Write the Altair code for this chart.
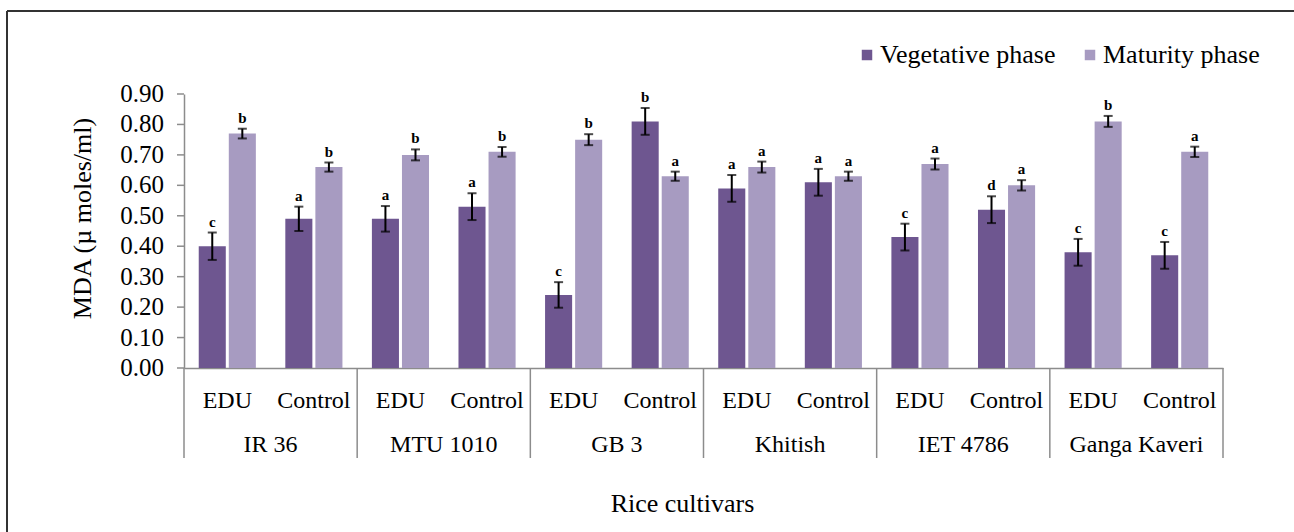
import altair as alt
import pandas as pd

# Rice cultivars and treatments
cultivars = ["IR 36", "MTU 1010", "GB 3", "Khitish", "IET 4786", "Ganga Kaveri"]
treatments = ["EDU", "Control"]
phases = ["Vegetative phase", "Maturity phase"]

# MDA (µ moles/ml), order: cultivar x (EDU, Control)
veg_mean = [0.40, 0.49, 0.49, 0.53, 0.24, 0.81, 0.59, 0.61, 0.43, 0.52, 0.38, 0.37]
veg_err = [0.045, 0.040, 0.042, 0.044, 0.042, 0.044, 0.044, 0.044, 0.044, 0.044, 0.044, 0.044]
veg_letters = ["c", "a", "a", "a", "c", "b", "a", "a", "c", "d", "c", "c"]

mat_mean = [0.77, 0.66, 0.70, 0.71, 0.75, 0.63, 0.66, 0.63, 0.67, 0.60, 0.81, 0.71]
mat_err = [0.016, 0.015, 0.018, 0.016, 0.018, 0.015, 0.018, 0.015, 0.018, 0.017, 0.018, 0.017]
mat_letters = ["b", "b", "b", "b", "b", "a", "a", "a", "a", "a", "b", "a"]

y_ticks = [0.0, 0.1, 0.2, 0.3, 0.4, 0.5, 0.6, 0.7, 0.8, 0.9]

colors = ["#6E5690", "#A79BC1"]
FONT = "Liberation Serif"
AXIS_GREY = "#8c8c8c"

slots = [f"{c}|{t}" for c in cultivars for t in treatments]

rows = []
for i, slot in enumerate(slots):
    rows.append(dict(slot=slot, phase=phases[0], mean=veg_mean[i],
                     err=veg_err[i], letter=veg_letters[i]))
    rows.append(dict(slot=slot, phase=phases[1], mean=mat_mean[i],
                     err=mat_err[i], letter=mat_letters[i]))
df = pd.DataFrame(rows)
df["lo"] = df["mean"] - df["err"]
df["hi"] = df["mean"] + df["err"]

tick_df = pd.DataFrame({"v": y_ticks, "lab": [f"{v:.2f}" for v in y_ticks]})

W, H = 1039, 274

x_scale = alt.Scale(domain=slots, paddingInner=0, paddingOuter=0)
x_axis = alt.Axis(
    labelExpr="split(datum.label, '|')[1]",
    labelAngle=0,
    labelFont=FONT,
    labelFontSize=24,
    labelColor="black",
    labelBaseline="middle",
    labelPadding=32,
    labelOverlap=False,
    ticks=False,
    domainColor=AXIS_GREY,
    domainWidth=1.5,
    title="Rice cultivars",
    titleFont=FONT,
    titleFontSize=26,
    titleFontWeight="normal",
    titleColor="black",
    titleX=498,
    titleY=135,
    titleAlign="center",
    titleBaseline="middle",
)


def xenc(band=None):
    if band is None:
        return alt.X("slot:N", scale=x_scale, axis=x_axis)
    return alt.X("slot:N", scale=x_scale, axis=x_axis, bandPosition=band)


xo = alt.XOffset("phase:N",
                 scale=alt.Scale(domain=phases, paddingInner=0.1, paddingOuter=0.49))

y_scale = alt.Scale(domain=[0, 0.9], nice=False, zero=True)
# Axis keeps the domain line and title; ticks and labels are drawn as layers
y_axis = alt.Axis(
    labels=False,
    ticks=False,
    domainColor=AXIS_GREY,
    domainWidth=1.5,
    grid=False,
    title="MDA (µ moles/ml)",
    titleFont=FONT,
    titleFontSize=26,
    titleFontWeight="normal",
    titleColor="black",
    titleX=-102,
    titleY=124,
    titleAngle=270,
    titleAlign="center",
    titleBaseline="middle",
)


def yenc(field):
    return alt.Y(f"{field}:Q", scale=y_scale, axis=y_axis)


base = alt.Chart(df)

bars = base.mark_bar().encode(
    x=xenc(),
    xOffset=xo,
    y=yenc("mean"),
    color=alt.Color(
        "phase:N",
        scale=alt.Scale(domain=phases, range=colors),
        legend=alt.Legend(
            orient="none",
            legendX=670,
            legendY=-52,
            direction="horizontal",
            title=None,
            symbolType="square",
            symbolSize=110,
            symbolStrokeWidth=0,
            labelFont=FONT,
            labelFontSize=26,
            labelColor="black",
            labelOffset=0,
            columnPadding=21,
            labelLimit=400,
        ),
    ),
)

err_rule = base.mark_rule(color="black", strokeWidth=2).encode(
    x=xenc(), xOffset=xo, y=yenc("lo"), y2="hi:Q"
)
cap_hi = base.mark_tick(color="black", thickness=2, size=9).encode(
    x=xenc(), xOffset=xo, y=yenc("hi")
)
cap_lo = base.mark_tick(color="black", thickness=2, size=9).encode(
    x=xenc(), xOffset=xo, y=yenc("lo")
)
letters = base.mark_text(
    font=FONT, fontSize=15, fontWeight="bold", color="black",
    baseline="alphabetic", dy=-6,
).encode(x=xenc(), xOffset=xo, y=yenc("hi"), text="letter:N")

# Y tick marks and labels
tick_marks = alt.Chart(tick_df).mark_rule(color=AXIS_GREY, strokeWidth=1.5).encode(
    y=yenc("v"), x=alt.value(-7), x2=alt.value(0)
)
tick_labels = alt.Chart(tick_df).mark_text(
    font=FONT, fontSize=25, color="black", align="right", baseline="middle"
).encode(y=yenc("v"), x=alt.value(-20), text="lab:N")

# Group separators and cultivar labels under the axis
sep_df = pd.DataFrame({"slot": [f"{c}|EDU" for c in cultivars]})
end_df = pd.DataFrame({"slot": [f"{cultivars[-1]}|Control"]})
cult_df = pd.DataFrame({"slot": [f"{c}|EDU" for c in cultivars], "name": cultivars})

sep_left = alt.Chart(sep_df).mark_rule(color=AXIS_GREY, strokeWidth=1.5).encode(
    x=xenc(0), y=alt.value(H), y2=alt.value(H + 90)
)
sep_right = alt.Chart(end_df).mark_rule(color=AXIS_GREY, strokeWidth=1.5).encode(
    x=xenc(1), y=alt.value(H), y2=alt.value(H + 90)
)
cult_labels = alt.Chart(cult_df).mark_text(
    font=FONT, fontSize=24, color="black", baseline="middle"
).encode(x=xenc(1), y=alt.value(H + 77), text="name:N")

# Outer frame (top and left edges)
one = pd.DataFrame({"k": [0]})
frame_top = alt.Chart(one).mark_rule(color="#333333", strokeWidth=2).encode(
    x=alt.value(-177), x2=alt.value(1200), y=alt.value(-83)
)
frame_left = alt.Chart(one).mark_rule(color="#333333", strokeWidth=2).encode(
    x=alt.value(-177), y=alt.value(-83), y2=alt.value(500)
)

chart = alt.layer(
    frame_top, frame_left, bars, err_rule, cap_hi, cap_lo, letters,
    tick_marks, tick_labels, sep_left, sep_right, cult_labels,
).properties(
    width=W,
    height=H,
    autosize=alt.AutoSizeParams(type="none"),
    padding={"left": 184, "top": 94, "right": 71, "bottom": 164},
    background="white",
).configure_view(stroke=None)

chart.save("out.html", embed_options={"renderer": "svg", "actions": False})
